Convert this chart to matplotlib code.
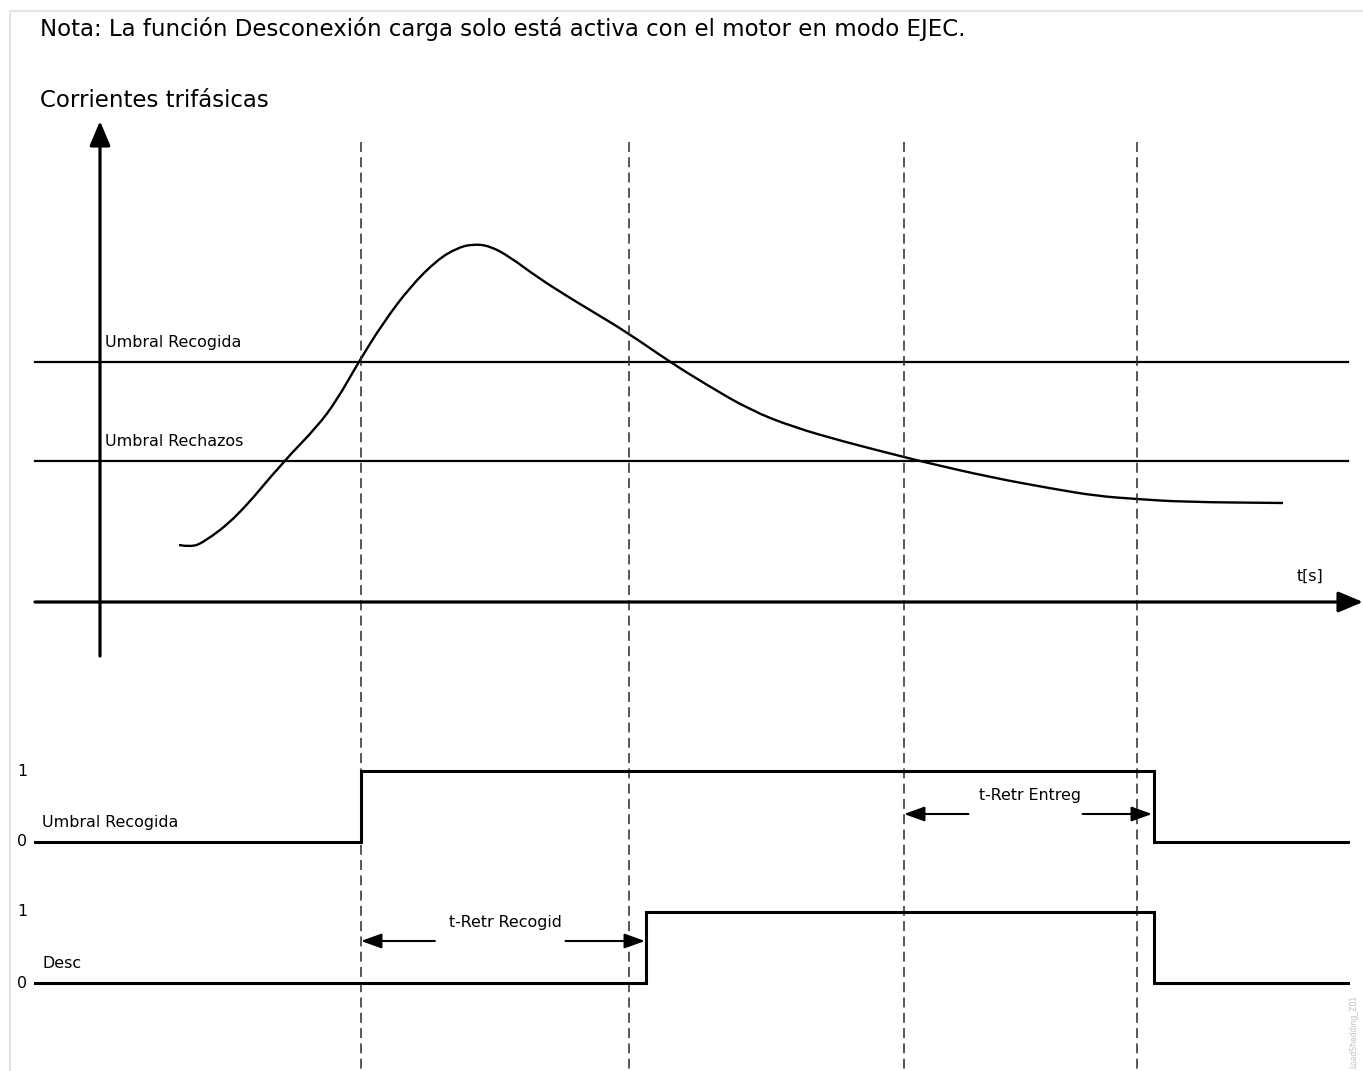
import matplotlib.pyplot as plt
from matplotlib.path import Path
from matplotlib.patches import PathPatch

# --- diagram values (pixel-like diagram units, y grows downwards) ---
note_text = 'Nota: La función Desconexión carga solo está activa con el motor en modo EJEC.'
title_text = 'Corrientes trifásicas'

curve_t = [179, 190, 203, 237, 283, 317, 337, 358, 383, 410, 437, 457, 473, 490,
           510, 537, 570, 590, 628, 670, 707, 750, 793, 845, 904, 924, 989, 1054,
           1097, 1136, 1184, 1283]
curve_i = [545, 547, 543, 517, 462, 427, 400, 363, 323, 287, 260, 248, 244, 246,
           257, 277, 298, 310, 333, 362, 385, 410, 427, 442, 457, 462, 477, 489,
           496, 499, 502, 503]

threshold_names = ['Umbral Recogida', 'Umbral Rechazos']
threshold_levels = [362, 461]

event_times = [361, 629, 904, 1137]

pickup_t = [35, 361, 361, 1154, 1154, 1348]
pickup_v = [842, 842, 771, 771, 842, 842]
trip_t = [35, 646, 646, 1154, 1154, 1348]
trip_v = [983, 983, 912, 912, 983, 983]

signal_names = ['Umbral Recogida', 'Desc']
signal_high = [771, 912]
signal_low = [842, 983]

delay_names = ['t-Retr Recogid', 't-Retr Entreg']
delay_start = [361, 904]
delay_end = [645, 1152]
delay_y = [941, 814]

fig = plt.figure(figsize=(13.63, 10.71), dpi=100)
ax = fig.add_axes([0, 0, 1, 1])
ax.set_xlim(0, 1363)
ax.set_ylim(1071, 0)
ax.axis('off')

# light frame at left/top
ax.plot([10, 10, 1363], [1071, 11, 11], color='#e4e4e4', lw=1.6)

ax.text(40, 36, note_text, fontsize=16.5, va='baseline', ha='left')
ax.text(40, 107, title_text, fontsize=16.5, va='baseline', ha='left')

# axes arrows
big = dict(arrowstyle='-|>,head_length=1.0,head_width=0.42', mutation_scale=15,
           lw=2.3, color='black', shrinkA=0, shrinkB=0)
ax.annotate('', xy=(100, 121), xytext=(100, 656), arrowprops=big)
ax.annotate('', xy=(1363, 602), xytext=(35, 602), arrowprops=big)
ax.text(1297, 581, 't[s]', fontsize=11.4, va='baseline', ha='left')

# thresholds
for name, lvl in zip(threshold_names, threshold_levels):
    ax.plot([35, 1348], [lvl, lvl], color='black', lw=1.6)
    ax.text(105, lvl - 15, name, fontsize=11.4, va='baseline', ha='left')

# event lines
for t in event_times:
    ax.plot([t, t], [142, 1071], color='#2a2a2a', lw=1.1, linestyle=(0, (6.5, 3.5)))

# current curve, drawn as a smooth quadratic path through the read points
pts = list(zip(curve_t, curve_i))
verts = [pts[0]]
codes = [Path.MOVETO]
for k in range(1, len(pts) - 1):
    mid = ((pts[k][0] + pts[k + 1][0]) / 2, (pts[k][1] + pts[k + 1][1]) / 2)
    verts += [pts[k], mid]
    codes += [Path.CURVE3, Path.CURVE3]
verts.append(pts[-1])
codes.append(Path.LINETO)
ax.add_patch(PathPatch(Path(verts, codes), facecolor='none', edgecolor='black',
                       lw=1.7, capstyle='butt'))

# digital signals
ax.plot(pickup_t, pickup_v, color='black', lw=2.2, solid_joinstyle='miter')
ax.plot(trip_t, trip_v, color='black', lw=2.2, solid_joinstyle='miter')
for name, hi, lo in zip(signal_names, signal_high, signal_low):
    ax.text(17, hi, '1', fontsize=11.4, va='center', ha='left')
    ax.text(17, lo, '0', fontsize=11.4, va='center', ha='left')
    ax.text(42, lo - 15, name, fontsize=11.4, va='baseline', ha='left')

# delay annotations
small = dict(arrowstyle='-|>,head_length=1.0,head_width=0.36', mutation_scale=12.5,
             lw=1.5, color='black', shrinkA=0, shrinkB=0)
for name, t0, t1, y in zip(delay_names, delay_start, delay_end, delay_y):
    mid = (t0 + t1) / 2
    ax.annotate('', xy=(t0, y), xytext=(t0 + 0.26 * (t1 - t0), y), arrowprops=small)
    ax.annotate('', xy=(t1, y), xytext=(t1 - 0.28 * (t1 - t0), y), arrowprops=small)
    ax.text(mid + 2, y - 14, name, fontsize=11.4, va='baseline', ha='center')

ax.text(1354, 1068, 'LoadShedding_Z01', fontsize=5.5, color='#c0c0c0',
        rotation=90, ha='center', va='bottom')

fig.savefig('out.png', dpi=100)
